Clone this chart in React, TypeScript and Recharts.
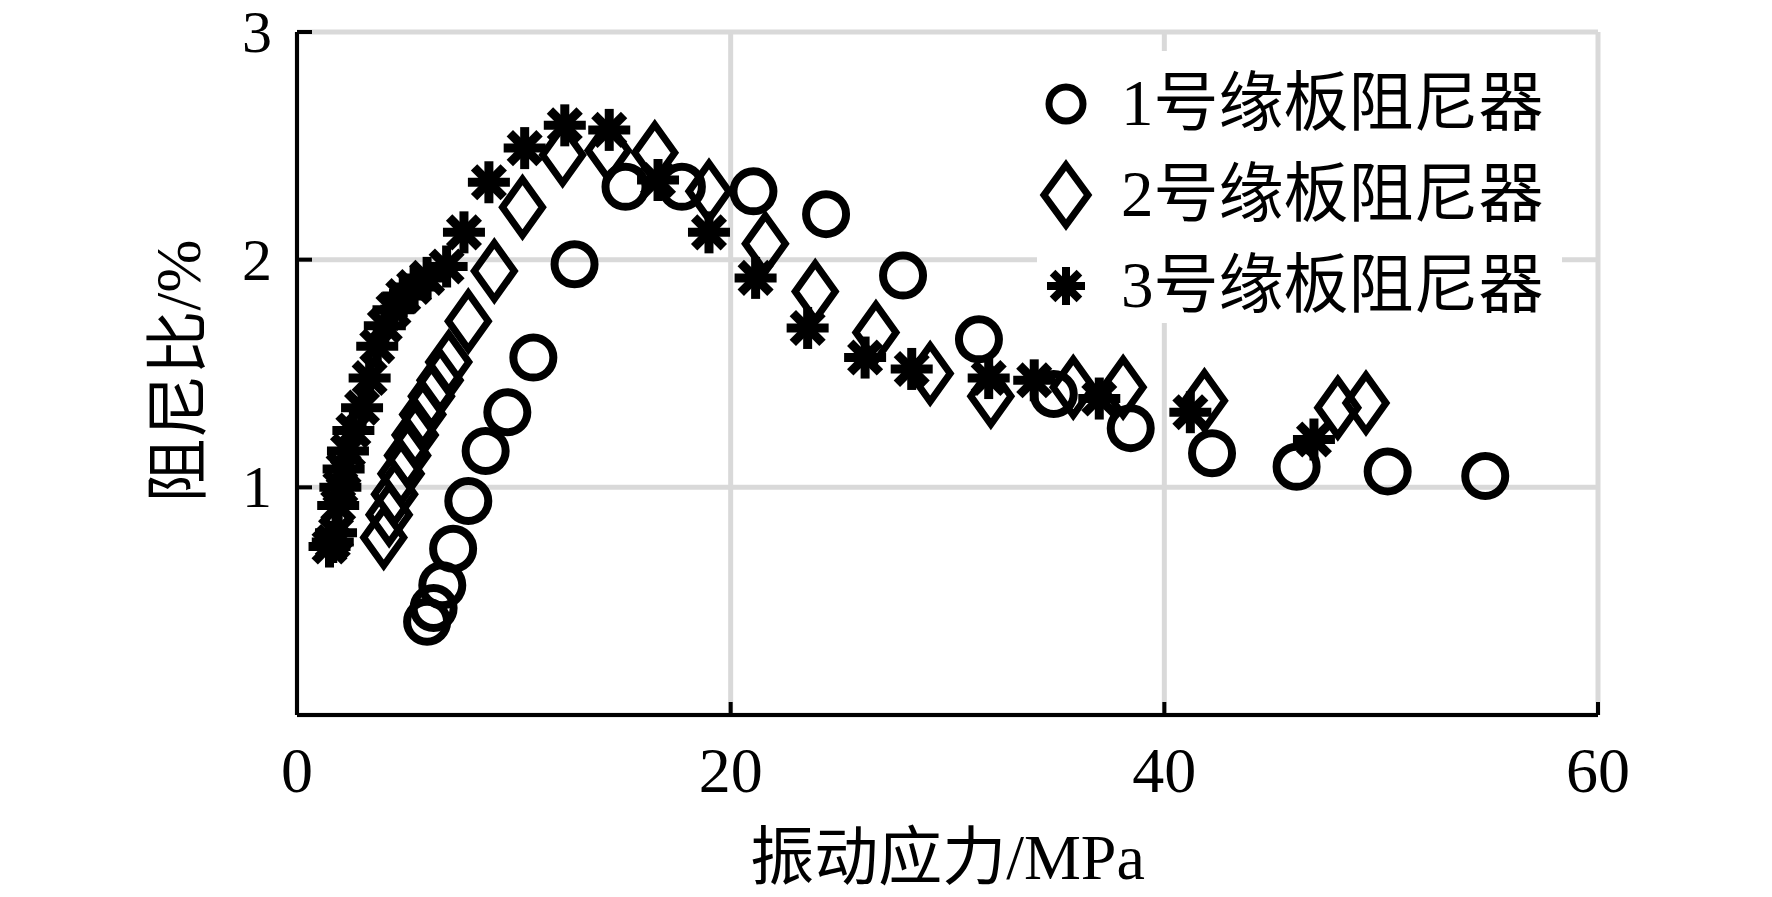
import React from 'react';
import { ScatterChart, Scatter, XAxis, YAxis, CartesianGrid, Legend } from 'recharts';

// 1号缘板阻尼器 (circles)
const s1x = [6.0, 6.3, 6.7, 7.2, 7.9, 8.7, 9.7, 10.9, 12.8, 15.15, 17.75, 21.05, 24.4, 27.95, 31.45, 34.9, 38.45, 42.2, 46.1, 50.3, 54.8];
const s1y = [0.41, 0.47, 0.57, 0.73, 0.94, 1.16, 1.33, 1.57, 1.98, 2.32, 2.32, 2.3, 2.2, 1.93, 1.65, 1.41, 1.26, 1.15, 1.09, 1.07, 1.05];

// 2号缘板阻尼器 (diamonds)
const s2x = [4.0, 4.25, 4.5, 4.8, 5.1, 5.45, 5.8, 6.2, 6.6, 7.0, 7.9, 9.1, 10.4, 12.25, 14.35, 16.5, 19.0, 21.6, 23.9, 26.7, 29.2, 32.0, 35.8, 38.1, 41.85, 48.0, 49.3];
const s2y = [0.78, 0.88, 0.97, 1.06, 1.14, 1.23, 1.32, 1.4, 1.47, 1.55, 1.73, 1.95, 2.23, 2.46, 2.48, 2.47, 2.3, 2.07, 1.86, 1.68, 1.5, 1.4, 1.44, 1.44, 1.38, 1.35, 1.37];

// 3号缘板阻尼器 (asterisks)
const s3x = [1.5, 1.65, 1.8, 1.9, 2.0, 2.15, 2.35, 2.6, 3.0, 3.35, 3.7, 4.05, 4.45, 4.9, 5.4, 6.0, 6.9, 7.7, 8.85, 10.5, 12.35, 14.4, 16.65, 19.0, 21.15, 23.55, 26.2, 28.35, 31.9, 34.0, 37.0, 41.2, 46.9];
const s3y = [0.74, 0.76, 0.8, 0.92, 1.0, 1.08, 1.16, 1.25, 1.35, 1.48, 1.62, 1.71, 1.78, 1.84, 1.88, 1.92, 1.97, 2.12, 2.34, 2.49, 2.59, 2.57, 2.35, 2.12, 1.92, 1.7, 1.57, 1.52, 1.48, 1.47, 1.39, 1.33, 1.21];

const seriesNames = ['1号缘板阻尼器', '2号缘板阻尼器', '3号缘板阻尼器'];
const xTicks = [0, 20, 40, 60];
const yTicks = [1, 2, 3];
const xTitle = '振动应力/MPa';
const yTitle = '阻尼比/%';

const toPoints = (xs: number[], ys: number[]) => xs.map((x, i) => ({ x, y: ys[i] }));

const FONT = '"Liberation Serif", "Noto Sans CJK SC", serif';

const CircleMark = ({ cx, cy, r = 20, sw = 8 }: any) => (
    <circle cx={cx} cy={cy} r={r} fill="none" stroke="#000" strokeWidth={sw} />
);

const DiamondMark = ({ cx, cy, w = 20, h = 28, sw = 7 }: any) => (
    <polygon
        points={`${cx},${cy - h} ${cx + w},${cy} ${cx},${cy + h} ${cx - w},${cy}`}
        fill="none"
        stroke="#000"
        strokeWidth={sw}
    />
);

const StarMark = ({ cx, cy, s = 21, sw = 9 }: any) => {
    const d = s * 0.7071;
    return (
        <g stroke="#000" strokeWidth={sw}>
            <line x1={cx} y1={cy - s} x2={cx} y2={cy + s} />
            <line x1={cx - s} y1={cy} x2={cx + s} y2={cy} />
            <line x1={cx - d} y1={cy - d} x2={cx + d} y2={cy + d} />
            <line x1={cx - d} y1={cy + d} x2={cx + d} y2={cy - d} />
        </g>
    );
};

const YTick = (props: any) => {
    const { x, y, payload } = props;
    return (
        <g>
            <line x1={x} x2={x + 15} y1={y} y2={y} stroke="#000" strokeWidth={4} />
            <text x={x - 25} y={y + 20} textAnchor="end" fontFamily={FONT} fontSize={60} fill="#000">
                {payload.value}
            </text>
        </g>
    );
};

const XTick = (props: any) => {
    const { x, y, payload } = props;
    return (
        <g>
            <line x1={x} x2={x} y1={y} y2={y - 13} stroke="#000" strokeWidth={4} />
            <text x={x} y={y + 77} textAnchor="middle" fontFamily={FONT} fontSize={64} fill="#000">
                {payload.value}
            </text>
        </g>
    );
};

const XTitle = (props: any) => {
    const { viewBox } = props;
    return (
        <text x={viewBox.x + viewBox.width / 2} y={viewBox.y + 164} textAnchor="middle" fontFamily={FONT} fontSize={64} fill="#000">
            {xTitle}
        </text>
    );
};

const YTitle = () => (
    <text x={178} y={371} transform="rotate(-90 178 371)" textAnchor="middle" dominantBaseline="central" fontFamily={FONT} fontSize={64} fill="#000">
        {yTitle}
    </text>
);

const LegendBox = () => {
    const marks = [
        <CircleMark cx={29} cy={38} r={17} sw={7} />,
        <DiamondMark cx={29} cy={38} w={22} h={30} sw={7} />,
        <StarMark cx={29} cy={38} s={19} sw={8} />,
    ];
    return (
        <div style={{ background: '#fff', width: 525, height: 272, paddingTop: 7, boxSizing: 'border-box' }}>
            {seriesNames.map((name, i) => (
                <div key={name} style={{ display: 'flex', alignItems: 'center', height: 91 }}>
                    <svg width={58} height={76}>{marks[i]}</svg>
                    <span style={{ marginLeft: 26, fontFamily: FONT, fontSize: 65, lineHeight: 1, color: '#000' }}>{name}</span>
                </div>
            ))}
        </div>
    );
};

export default function App() {
    return (
        <div style={{ position: 'absolute', left: 0, top: 0, background: '#fff' }}>
            <ScatterChart width={1772} height={897} margin={{ top: 32, right: 174, left: 177, bottom: 62 }}>
                <CartesianGrid stroke="#d9d9d9" strokeWidth={5} />
                <XAxis
                    type="number"
                    dataKey="x"
                    domain={[0, 60]}
                    ticks={xTicks}
                    height={120}
                    tickSize={0}
                    tickMargin={0}
                    axisLine={{ stroke: '#000', strokeWidth: 4 }}
                    tick={XTick}
                    label={XTitle}
                />
                <YAxis
                    type="number"
                    dataKey="y"
                    domain={[0, 3]}
                    ticks={yTicks}
                    width={120}
                    tickSize={0}
                    tickMargin={0}
                    axisLine={{ stroke: '#000', strokeWidth: 4 }}
                    tick={YTick}
                    label={YTitle}
                />
                <Legend
                    layout="vertical"
                    align="center"
                    verticalAlign="middle"
                    content={LegendBox}
                    wrapperStyle={{ left: 1037, top: 51, width: 525, height: 272 }}
                />
                <Scatter name={seriesNames[0]} data={toPoints(s1x, s1y)} isAnimationActive={false} shape={(p: any) => <CircleMark cx={p.cx} cy={p.cy} />} />
                <Scatter name={seriesNames[1]} data={toPoints(s2x, s2y)} isAnimationActive={false} shape={(p: any) => <DiamondMark cx={p.cx} cy={p.cy} />} />
                <Scatter name={seriesNames[2]} data={toPoints(s3x, s3y)} isAnimationActive={false} shape={(p: any) => <StarMark cx={p.cx} cy={p.cy} />} />
            </ScatterChart>
        </div>
    );
}
